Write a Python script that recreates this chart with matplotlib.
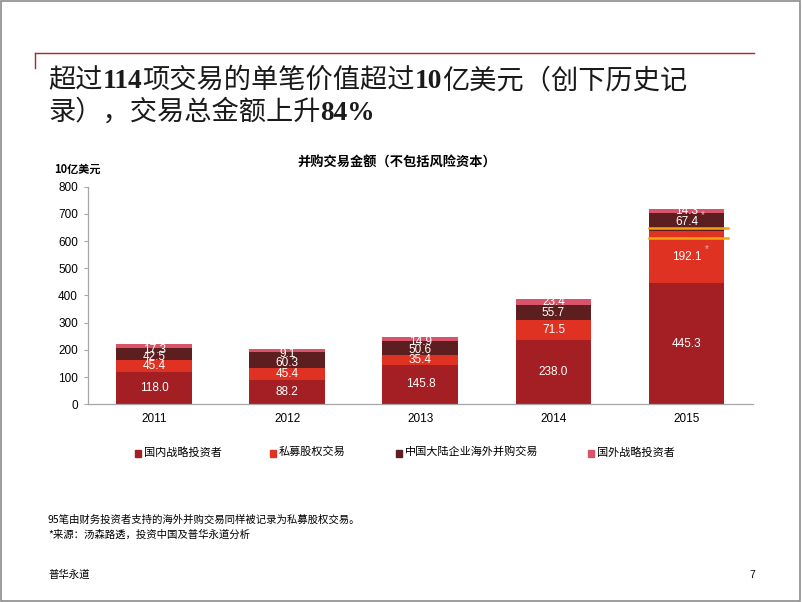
import numpy as np
import matplotlib
matplotlib.use('Agg')
import matplotlib.pyplot as plt
from matplotlib.patches import Rectangle
from matplotlib.lines import Line2D

plt.rcParams['font.family'] = ['Liberation Sans', 'Noto Sans CJK SC', 'DejaVu Sans']
CJK = ['Noto Sans CJK SC', 'DejaVu Sans']

###------------------------- data --------------------------------------###
years = ['2011', '2012', '2013', '2014', '2015']
domestic = [118.0, 88.2, 145.8, 238.0, 445.3]     # 国内战略投资者
pe_deals = [45.4, 45.4, 35.4, 71.5, 192.1]        # 私募股权交易
mainland_os = [42.5, 60.3, 50.6, 55.7, 67.4]      # 中国大陆企业海外并购交易
foreign = [17.3, 9.1, 14.9, 23.4, 14.3]           # 国外战略投资者
series_names = ['国内战略投资者', '私募股权交易', '中国大陆企业海外并购交易', '国外战略投资者']
highlight_levels = [647, 611]   # orange marks on the 2015 bar

colors = ['#A31F24', '#E03222', '#5C1E1E', '#D9546B']
# labels of the two upper segments sit a bit lower on the short bars
label_shift = [[0] * 5, [0] * 5, [-12, -12, -8, 0, 0], [-14, -14, -12, 0, 0]]

###------------------------- figure --------------------------------------###
fig = plt.figure(figsize=(8.02, 6.02), dpi=100)
fig.patch.set_facecolor('white')

# slide frame
fig.add_artist(Rectangle((0.001, 0.002), 0.997, 0.996, transform=fig.transFigure,
                         fill=False, edgecolor='#8c8c8c', linewidth=1.2))
# red rule with little tick at the left
fig.add_artist(Line2D([35/802, 754/802], [1-53/602, 1-53/602], transform=fig.transFigure,
                      color='#B22228', linewidth=1.0))
fig.add_artist(Line2D([35/802, 35/802], [1-53/602, 1-68/602], transform=fig.transFigure,
                      color='#B22228', linewidth=1.0))


def draw_runs(x, y, runs, size, num_size):
    """put text runs one after the other, mixing CJK and bold serif digits"""
    renderer = fig.canvas.get_renderer()
    for txt, kind in runs:
        if kind == 'num':
            t = fig.text(x, y, txt, fontsize=num_size, family='Liberation Serif', weight='bold',
                         va='baseline', ha='left', color='#1a1a1a')
        else:
            t = fig.text(x, y, txt, fontsize=size, family=CJK, weight='medium',
                         va='baseline', ha='left', color='#1a1a1a')
        bb = t.get_window_extent(renderer=renderer)
        x += bb.width / fig.bbox.width


draw_runs(48/802, 1-88/602, [('超过', 'c'), ('114', 'num'), ('项交易的单笔价值超过', 'c'),
                             ('10', 'num'), ('亿美元（创下历史记', 'c')], 19.6, 19.7)
draw_runs(48/802, 1-120/602, [('录），交易总金额上升', 'c'), ('84%', 'num')], 19.6, 19.7)

###------------------------- chart --------------------------------------###
ax = fig.add_axes([0.1094, 0.3284, 0.8296, 0.3615])
x = np.arange(len(years))
width = 0.57
bottom = np.zeros(len(years))
for vals, col, name, shifts in zip([domestic, pe_deals, mainland_os, foreign], colors, series_names, label_shift):
    vals = np.array(vals)
    ax.bar(x, vals, width, bottom=bottom, color=col, label=name, zorder=2)
    for xi, b, v, dy in zip(x, bottom, vals, shifts):
        ax.text(xi, b + v / 2 + dy, f'{v:.1f}', ha='center', va='center',
                color='white', fontsize=8.5, zorder=3)
    bottom += vals

# highlight lines and asterisks on 2015
for lvl in highlight_levels:
    ax.plot([4 - width / 2, 4 + 0.31], [lvl, lvl], color='#F5A30A', linewidth=1.8,
            zorder=4, clip_on=False)
b15 = domestic[4] + pe_deals[4]
ax.text(4 + 0.11, b15 + mainland_os[4] * 0.87, '*', color='#F2B8B8', fontsize=7, ha='left', va='center', zorder=4)
ax.text(4 + 0.135, domestic[4] + pe_deals[4] * 0.66, '*', color='#F2B8B8', fontsize=7, ha='left', va='center', zorder=4)

ax.set_xlim(-0.5, 4.5)
ax.set_ylim(0, 800)
ax.set_yticks(np.arange(0, 801, 100))
ax.set_xticks(x)
ax.set_xticklabels(years)
for s in ['top', 'right']:
    ax.spines[s].set_visible(False)
for s in ['left', 'bottom']:
    ax.spines[s].set_color('#a6a6a6')
    ax.spines[s].set_linewidth(0.9)
ax.tick_params(axis='y', length=3, color='#a6a6a6', labelsize=8.5, pad=4)
ax.tick_params(axis='x', length=0, labelsize=8.5, pad=6)

ax.text(-0.05, 1.05, '10亿美元', transform=ax.transAxes, fontsize=8, weight='bold',
        family=CJK, ha='left', va='bottom')
fig.text(397/802, 1-163/602, '并购交易金额（不包括风险资本）', fontsize=9.5, weight='bold',
         family=CJK, ha='center', va='center')

# legend
legend_x = [139, 274, 400, 592]
for lx, col, name in zip(legend_x, colors, series_names):
    fig.add_artist(Rectangle((lx/802 - 0.0045, 1-457/602), 0.0075, 0.0115,
                             transform=fig.transFigure, color=col))
    fig.text(lx/802 + 0.006, 1-452/602, name, fontsize=8, family=CJK, ha='left', va='center')

# notes
fig.text(48/802, 1-520/602, '95笔由财务投资者支持的海外并购交易同样被记录为私募股权交易。',
         fontsize=7.5, family=CJK, ha='left', va='center')
fig.text(48/802, 1-535/602, '*来源：汤森路透，投资中国及普华永道分析',
         fontsize=7.5, family=CJK, ha='left', va='center')
fig.text(48/802, 1-575/602, '普华永道', fontsize=7.5, family=CJK, ha='left', va='center')
fig.text(752/802, 1-575/602, '7', fontsize=7.5, ha='center', va='center')

plt.savefig('out.png', dpi=100)
